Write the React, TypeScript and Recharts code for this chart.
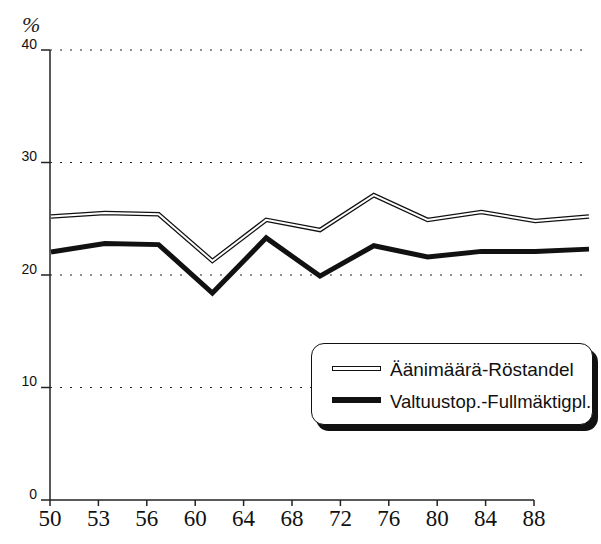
import React from 'react';
import { LineChart, Line, XAxis, YAxis, CartesianGrid, ReferenceLine } from 'recharts';

const years = ['50', '53', '56', '60', '64', '68', '72', '76', '80', '84', '88'];
const aanimaara = [25.2, 25.5, 25.4, 21.25, 24.9, 24.0, 27.1, 24.9, 25.6, 24.8, 25.2];
const valtuusto = [22.05, 22.8, 22.7, 18.4, 23.3, 19.9, 22.6, 21.6, 22.1, 22.1, 22.3];
const yTicks = [0, 10, 20, 30, 40];
const gridValues = [10, 20, 30, 40];
const legendLabels = ['Äänimäärä-Röstandel', 'Valtuustop.-Fullmäktigpl.'];

const data = years.map((y, i) => ({ idx: i, year: y, aani: aanimaara[i], valt: valtuusto[i] }));
const tickIdx = years.map((_, i) => i);

const sans = '"Liberation Sans", Arial, Helvetica, sans-serif';
const serif = '"Liberation Serif", "Times New Roman", serif';

export default function App() {
  return (
    <div style={{ position: 'absolute', left: 0, top: 0, width: 601, height: 544, background: '#fff' }}>
      <LineChart width={601} height={544} data={data} margin={{ top: 50, right: 11, left: 0, bottom: 0 }}>
        <CartesianGrid
          xAxisId="data"
          vertical={false}
          horizontalValues={gridValues}
          stroke="#222"
          strokeDasharray="2 8"
          strokeWidth={1.2}
        />
        <XAxis xAxisId="data" type="number" dataKey="idx" domain={[-0.0186, 10.0186]} allowDataOverflow hide height={0} />
        <XAxis
          xAxisId="disp"
          type="number"
          dataKey="idx"
          domain={[0, 11.157]}
          allowDataOverflow
          ticks={tickIdx}
          interval={0}
          tickFormatter={(v: number) => years[v]}
          axisLine={false}
          tickLine={{ stroke: '#222', strokeWidth: 1.5 }}
          tickSize={6}
          tickMargin={4}
          height={44}
          tick={{ fontSize: 23, fontFamily: serif, fill: '#111' }}
        />
        <YAxis
          type="number"
          domain={[0, 40]}
          ticks={yTicks}
          interval={0}
          width={50}
          axisLine={{ stroke: '#222', strokeWidth: 1.5 }}
          tickLine={{ stroke: '#222', strokeWidth: 1.5 }}
          tickSize={9}
          tickMargin={4}
          tick={{ fontSize: 14, fontFamily: sans, fill: '#111', dy: -6 }}
        />
        <ReferenceLine
          xAxisId="disp"
          segment={[{ x: 0, y: 0 }, { x: 10, y: 0 }]}
          stroke="#222"
          strokeWidth={1.5}
          ifOverflow="visible"
        />
        <Line xAxisId="data" dataKey="valt" stroke="#111" strokeWidth={5} dot={false} strokeLinejoin="miter" isAnimationActive={false} />
        <Line xAxisId="data" dataKey="aani" stroke="#111" strokeWidth={4.5} dot={false} strokeLinejoin="miter" isAnimationActive={false} />
        <Line xAxisId="data" dataKey="aani" stroke="#fff" strokeWidth={2} dot={false} strokeLinejoin="miter" isAnimationActive={false} />
      </LineChart>
      <div style={{ position: 'absolute', left: 22, top: 12, fontFamily: serif, fontStyle: 'italic', fontSize: 22, color: '#222' }}>%</div>
      <div
        style={{
          position: 'absolute',
          left: 311,
          top: 343,
          width: 280,
          height: 80,
          border: '1.5px solid #111',
          borderRadius: 13,
          boxShadow: '5px 6px 0 #111',
          background: '#fff',
        }}
      />
      <div style={{ position: 'absolute', left: 332, top: 366, width: 49, height: 5, boxSizing: 'border-box', border: '1.5px solid #111', background: '#fff' }} />
      <div style={{ position: 'absolute', left: 332, top: 397, width: 49, height: 6, background: '#111' }} />
      <div style={{ position: 'absolute', left: 390, top: 359, fontFamily: sans, fontSize: 19, color: '#111', whiteSpace: 'nowrap', lineHeight: '22px' }}>
        {legendLabels[0]}
      </div>
      <div style={{ position: 'absolute', left: 390, top: 391, fontFamily: sans, fontSize: 18.5, color: '#111', whiteSpace: 'nowrap', lineHeight: '22px' }}>
        {legendLabels[1]}
      </div>
    </div>
  );
}
